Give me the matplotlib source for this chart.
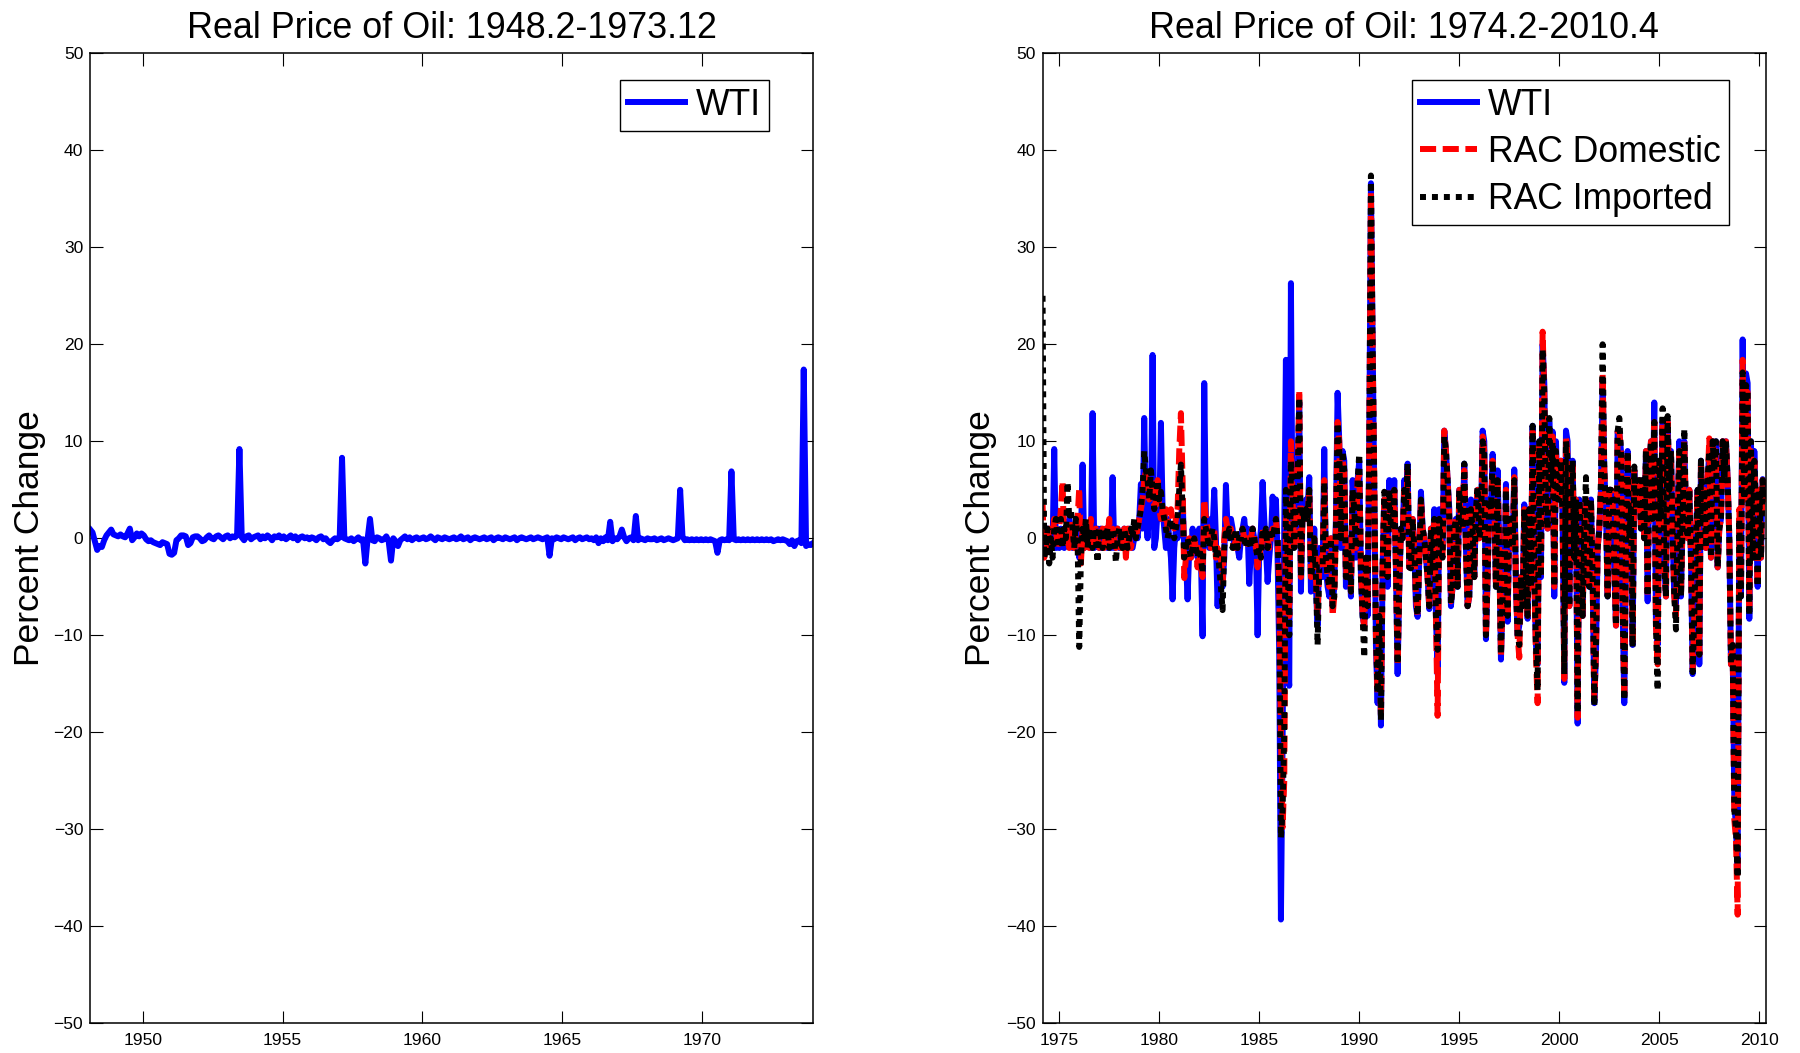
import matplotlib
matplotlib.use("Agg")
import matplotlib.pyplot as plt
import numpy as np

plt.rcParams['font.family'] = ['Liberation Sans', 'DejaVu Sans']

# ---------------- data ----------------
# Left panel: WTI real price, monthly percent change, 1948.2 - 1973.12
wti_early = [
    0.9, 0.6, -0.3, -1.2, -0.8, -0.9, -0.2, 0.3, 0.6, 0.9, 0.4,            # 1948 (Feb-Dec)
    0.3, 0.2, 0.4, 0.2, 0.1, 0.5, 1.0, -0.2, 0.1, 0.5, 0.2, 0.5,           # 1949
    0.3, -0.1, -0.3, -0.2, -0.4, -0.5, -0.6, -0.7, -0.4, -0.5, -0.6, -1.6, # 1950
    -1.7, -1.5, -0.2, 0.0, 0.3, 0.3, 0.2, -0.7, -0.5, 0.1, 0.2, 0.2,       # 1951
    0.0, -0.3, -0.2, 0.1, 0.3, 0.0, -0.1, 0.2, 0.3, 0.1, -0.1, 0.2,        # 1952
    0.3, 0.0, 0.2, 0.1, 0.3, 9.2, 0.1, -0.2, 0.2, 0.3, -0.1, 0.1,          # 1953
    0.2, 0.3, -0.1, 0.2, 0.0, 0.3, 0.1, -0.2, 0.2, 0.1, 0.3, 0.0,          # 1954
    0.2, -0.1, 0.1, 0.3, 0.0, 0.2, -0.2, 0.1, 0.2, 0.0, 0.1, -0.1,         # 1955
    0.1, 0.0, -0.2, 0.1, 0.2, -0.1, 0.0, -0.3, -0.5, -0.2, 0.0, -0.1,      # 1956
    0.1, 8.3, 0.0, -0.1, -0.2, 0.0, -0.3, -0.1, 0.1, -0.2, -0.1, -2.6,     # 1957
    0.0, 2.0, -0.2, -0.3, 0.1, 0.0, -0.2, -0.1, 0.2, -0.3, -2.3, 0.0,      # 1958
    -0.3, -0.8, -0.2, 0.0, 0.2, -0.1, 0.1, -0.2, 0.0, 0.1, -0.1, 0.0,      # 1959
    0.1, -0.1, 0.0, 0.2, 0.0, -0.2, 0.1, 0.0, -0.1, 0.1, 0.0, -0.1,        # 1960
    0.0, 0.1, -0.1, 0.0, 0.2, -0.1, 0.0, 0.1, -0.2, 0.0, 0.1, 0.0,         # 1961
    -0.1, 0.0, 0.1, -0.1, 0.0, 0.1, -0.2, 0.0, 0.1, 0.0, -0.1, 0.1,        # 1962
    0.0, -0.1, 0.0, 0.1, -0.2, 0.0, 0.1, 0.0, -0.1, 0.0, 0.1, -0.1,        # 1963
    0.0, 0.1, 0.0, -0.1, 0.0, 0.1, -1.8, 0.0, -0.1, 0.1, 0.0, -0.1,        # 1964
    0.1, 0.0, -0.1, 0.0, 0.1, -0.2, 0.0, 0.1, -0.1, 0.0, 0.1, -0.1,        # 1965
    0.0, -0.2, 0.1, -0.5, 0.0, -0.3, 0.1, -0.2, 1.7, -0.3, 0.0, -0.1,      # 1966
    0.2, 0.9, 0.1, -0.3, 0.0, 0.1, -0.2, 2.3, -0.2, 0.0, -0.1, -0.2,       # 1967
    0.0, -0.1, -0.1, 0.0, -0.2, -0.1, 0.0, -0.2, -0.1, 0.0, -0.1, -0.2,    # 1968
    -0.1, 0.0, 5.0, 0.2, -0.2, -0.1, -0.2, -0.1, -0.2, -0.1, -0.2, -0.1,   # 1969
    -0.2, -0.1, -0.2, -0.1, -0.2, -0.3, -1.5, -0.2, -0.1, -0.2, -0.1, -0.2,  # 1970
    6.9, -0.1, -0.2, -0.1, -0.2, -0.1, -0.2, -0.1, -0.2, -0.1, -0.2, -0.1,   # 1971
    -0.2, -0.1, -0.2, -0.1, -0.2, -0.1, -0.3, -0.2, -0.1, -0.2, -0.1, -0.2,  # 1972
    -0.3, -0.6, -0.2, -0.8, -0.3, -0.2, -0.5, 17.4, -0.8, -0.6, -0.7, -0.5,  # 1973
]

# Right panel: 1974.2 - 2010.4
wti = [
    1, -1, 0, 1, -1, 0, -1, 9.2, -1, 0, -1,                 # 1974
    1, 0, -1, 1, 0, 2, 1, -1, 1, -1, 0, -2,                 # 1975
    0, 7.6, -1, 0, 1, 0, -1, 12.9, -1, 0, 1, -1,            # 1976
    1, -1, 0, 1, -1, 0, -1, 6.3, -1, 0, 1, -1,              # 1977
    0, -1, 1, 0, -1, 1, 0, -1, 0, 1, 0, 2,                  # 1978
    5.6, 1, 12.4, 2, 0, 3, 2, 18.9, -1, 0, 3, 2,            # 1979
    11.9, 3, 1, -1, 2, 0, -2, -6.3, -1, 1, 0, 1,            # 1980
    2, 4, -1, -2, -6.3, -1, -2, 1, -1, 0, -2, 1,            # 1981
    -2, -10.1, 16, 2, 1, -1, 2, 1, 5, 0, -7, -2,            # 1982
    -3, -5, -2, 5.5, 1, 0, 2, 1, -1, 0, -1, -2,             # 1983
    0, 1, 2, 0, 1, -4.7, -1, 1, 0, -1, -10, -1,             # 1984
    1, 5.8, 2, -1, -4.5, -2, 0, 4.3, 1, 4, -2, -12,         # 1985
    -39.3, -21, 1, 18.4, -13, -15.2, 26.3, -1, 0, 2, 6, 14, # 1986
    -5.5, 3, 2, 4, 3, 6.3, -5.5, -4, 1, -5, -9, -1,         # 1987
    -2, -4, 9.2, -3, -5, -6, 0, -7, -5, 2, 15, 10,          # 1988
    -1, 9, 8, -5, 0, -2, -6, 6, 3, -2, 6, 8,                # 1989
    -4, -8, -9, -2, -8, 10, 36.6, 21, 6, -11, -17, -8,      # 1990
    -19.3, -3, 4, 2, -5, 6, 1, 1, 6, -3, -14, -5,           # 1991
    1, 0, 6, 3, 7.7, -3, -2, 2, -1, -7, -8.1, -2,           # 1992
    4.8, 1, 0, -2, -4, -7.3, 1, -3, 3, -8, -14, 3,          # 1993
    -1, -1, 11.1, 9, 6, 3, -7, -5, 1, 2, -5, 5,             # 1994
    2, 1, 7.7, -1, -7, -6, 4, 1, -4, 3, 5, 0,               # 1995
    1, 11.1, 10, -10.4, -4, 4, 3, 8.7, 4, -5, 7, -1,        # 1996
    -12.5, -6, -6, 5.6, -8.6, 2, 1, -1, 7.1, -5, -10, -9,   # 1997
    -4, -7, 3.5, -3, -8.3, 3, -5, 11.6, -4, -11, -13, 10,   # 1998
    -4, 20, 16, 3, 1, 12, 6, 11, -6, 10, 4, 4,              # 1999
    8, 2, -14.9, 11.1, 10, -7, 5, 8, -2, 4, -19.1, 4,       # 2000
    0, -8, 1, 4, -4, -5, 4, -4, -17, -12, -1, 1,            # 2001
    5, 16, 7, 3, -6, 5, 5, 4, -3, -9, 11, 11,               # 2002
    9, -7, -17, -1, 9, 0, 3, -11, 7, 3, 3, 6,               # 2003
    1, 6, 0, 9, -6.5, 7, 10, 2, 14, -9, -11, 8,             # 2004
    2, 12, -3, -6, 12, 5, 9, 0, -6, -7, 2, 10,              # 2005
    -6, 2, 10, 2, 0, 5, -2, -14, -8, 0, 5, -13,             # 2006
    8, 2, 5, -1, 6, 9, -2, 10, 7, 10, -3, 1,                # 2007
    2, 10, 6, 10, 6, 0, -13, -11, -27, -30, -34, 2,         # 2008
    -6, 20.5, 4, 17, 16, -8.3, 10, -2, 9, 3, -5, 5,         # 2009
    -2, 6.1, 4, 4.8,                                        # 2010
]

rac_domestic = [
    3.5, -2, 0, -1, 1, -1, 0, 2, 1, -1, 1,                  # 1974
    3, 5.9, -1, 1, 0, -1, 2, 0, -1, 1, 2, 5.2,              # 1975
    -2.6, 1, -1, 0, 1, -1, 2, 0, -1, 1, 0, -1,              # 1976
    0, 1, -1, 1, 0, 2, -1, 1, 0, -1, 1, 0,                  # 1977
    -1, 0, 1, -2, 1, 0, -1, 0, 1, 0, 1, 2,                  # 1978
    3, 4, 6, 7, 5, 4, 6, 5, 3, 4, 6, 3,                     # 1979
    2, 3, 2, 3, 1, 2, 3, 2, 1, 2, 3, 9,                     # 1980
    12.9, 6, -4.1, -2, -1, 0, -2, -1, 0, -1, -3, -1,        # 1981
    -3, -4, 4, 2, 1, 0, -1, 0, 1, -2, -1, -2,               # 1982
    -2, -4.6, 0, 2, 1, 0, 1, 0, -1, 0, -1, 0,               # 1983
    0, 1, 0, -1, 0, -1, 0, 1, 0, -1, -3, -1,                # 1984
    -2, 1, 0, 1, 0, -1, 0, 1, 1, 2, 0, -5,                  # 1985
    -20, -29.8, -25, 2, -3, -8, 10, 4, -1, 3, 5, 15.3,      # 1986
    -4, 3, 2, 3, 2, 5, -4, -3, 0, -4, -8, -3,               # 1987
    -2, -3, 6, -2, -4, -5, 0, -8, -6, 1, 12, 10,            # 1988
    0, 8, 7, -4, -1, -2, -5.5, 5, 3, -1, 6, 6.6,            # 1989
    -3, -8, -9.1, -2, -7, 9, 35.8, 20, 6, -10, -16, -8,     # 1990
    -18.5, -3, 4, 2, -4, 5, 1, 1, 5, -3, -13, -5,           # 1991
    1, 0, 5, 3, 7, -3, -2, 2, -1, -6, -8, -2,               # 1992
    4, 1, 0, -2, -4, -7, 1, -3, 2, -8, -18.3, 2,            # 1993
    -1, -2, 11.1, 9, 6, 2, -6.5, -5, 1, 2, -5, 5,           # 1994
    2, 1, 7, -1, -7, -6, 3, 1, -4, 3, 5, 0,                 # 1995
    1, 10.5, 9, -10, -4, 4, 3, 8, 4, -5, 6.5, -2,           # 1996
    -12.3, -6, -6, 5, -8, 2, 1, -1, 6.3, -5, -10, -12.3,    # 1997
    -4, -7, 3, -3, -8, 3, -5, 11, -4, -12, -17, 10,         # 1998
    -4, 21.3, 15, 3, 1, 11.5, 6, 10.5, -5, 9, 4, 4,         # 1999
    8, 2, -14.5, 10.5, 8.4, -7, 5, 8, -2, 4, -18.5, 4,      # 2000
    0, -8, 1, 4, -4, -5, 4, -4, -16.5, -12, -1, 1,          # 2001
    5, 17, 7, 3, -6, 5, 5, 4, -3, -9, 11, 11,               # 2002
    9, -7, -16.5, -1, 9, 0, 3, -11, 7, 3, 3, 6,             # 2003
    1, 6, 0, 9, -6, 7, 10, 2, 12, -9, -13, 8,               # 2004
    2, 12, -3, -6, 12, 5, 9, 0, -6, -8, 2, 9,               # 2005
    -6, 2, 10, 2, 0, 5, -2, -13.5, -8, 0, 5, -12,           # 2006
    8, 2, 5, -1, 6, 10.3, -2, 10, 7, 9, -3, 1,              # 2007
    2, 10, 6, 10, 6, 0, -13, -11, -29, -31, -38.8, 3,       # 2008
    -5, 18.4, 4, 15.8, 15, -7, 9, -2, 8, 3, -5, 5,          # 2009
    -2, 6, 4, 5,                                            # 2010
]

rac_imported = [
    25, -2, -1, 1, -2.6, 0, -2, 1, 2, 0, -1,                # 1974
    2, -1, 1, 0, 5.8, 2, 3, 1, -1, 2, 0, -11.2,             # 1975
    -2, 1, 0, 2, -1, 1, 0, -1, 1, 0, -2.5, 1,               # 1976
    0, -1, 1, 0, 1, -1, 0, 1, 0, -2.5, 0, 1,                # 1977
    0, -1, 1, 0, -1, 0, 1, 0, 2, 0, 1, 2,                   # 1978
    3, 5, 9, 7, 6, 4, 7, 5, 3, 4, 6, 4,                     # 1979
    4.8, 3, 2, 1, 0, 1, 2, 1, 0, 1, 2, 5,                   # 1980
    7.6, 3, -2, -1, 0, -1, -2, -1, 0, -1, -2, -1,           # 1981
    -2, -3.6, 2, 1, 0, -1, 0, 1, 0, -2, -1, -3,             # 1982
    -5, -7.4, -1, 1, 0, 1, 0, -1, 0, 1, -1, 0,              # 1983
    0, 1, 0, -1, 0, 0, -1, 1, 0, -1, -2, -1,                # 1984
    -2, 1, 0, 1, -1, 0, 1, 0, 1, 2, 0, -5,                  # 1985
    -30.9, -28, -20, 5, -2, -10, 8, 5, -1, 4, 6, 14.5,      # 1986
    -4, 3, 2, 3, 2, 5, -4, -3, 0, -4, -11, -3,              # 1987
    -3, -3, 5.8, -2, -4, -5, 0, -7, -6, 1, 11.9, 9,         # 1988
    0, 9, 7, -4, -1, -2, -5.5, 5, 3, -1, 6, 8.7,            # 1989
    -4, -8, -12.3, -2, -7, 9, 37.4, 20, 6, -10, -16, -8,    # 1990
    -18.8, -3, 4.8, 2, -4, 5, 1, 1, 5, -3, -13, -5,         # 1991
    1, 0, 5, 3, 7.7, -3, -3.1, 2, -1, -6, -8, -2,           # 1992
    4, 1, 0, -2, -4, -7, 1, -3, 2, -8, -11.5, 2,            # 1993
    -1, -2, 10.5, 9, 6, 2, -6.8, -5, 1, 2, -5, 5,           # 1994
    2, 1, 7.7, -1, -7, -6, 3, 1, -4, 3, 5.3, 0,             # 1995
    1, 10, 9, -10, -4, 4, 3, 8, 4, -5, 6, -2,               # 1996
    -12, -6, -6, 5, -8, 2, 1, -1, 6, -5, -10, -11,          # 1997
    -4, -7, 3, -3, -8, 3, -5, 11.6, -4, -11, -15.7, 10,     # 1998
    -4, 19.5, 15, 3, 1, 12.4, 6, 10, -5, 9, 4, 4,           # 1999
    8, 2, -14, 10, 8, -7, 5, 8, -2, 4, -18, 4,              # 2000
    0, -8, 1, 6.3, -4, -5, 4, -4, -17.3, -11, -1, 1,        # 2001
    6, 20, 7, 3, -6, 5, 5, 4, -3, -9, 11, 12.4,             # 2002
    9, -7, -16.7, -1, 9, 0, 3, -11.2, 7.4, 3, 3, 6,         # 2003
    1, 6, 0, 9, -6, 7, 10, 2, 12, -9, -15.7, 8,             # 2004
    2, 13.4, -3, -6, 12.6, 5, 9, 0, -6, -9.4, 2, 9,         # 2005
    -6, 2, 11.3, 2, 0, 5, -2, -13.8, -8, 0, 5, -12,         # 2006
    8, 2, 5, -1, 6, 9, -2, 10, 7, 10, -3, 1,                # 2007
    2, 10, 6, 10, 6, 0, -13, -11, -28, -30, -35, 2,         # 2008
    -6, 17.1, 4, 15.8, 15, -8, 10, -2, 8, 3, -5, 5,         # 2009
    -2, 6, 4, 5,                                            # 2010
]

y_ticks = [-50, -40, -30, -20, -10, 0, 10, 20, 30, 40, 50]
x_ticks_left = [1950, 1955, 1960, 1965, 1970]
x_ticks_right = [1975, 1980, 1985, 1990, 1995, 2000, 2005, 2010]
titles = ["Real Price of Oil: 1948.2-1973.12", "Real Price of Oil: 1974.2-2010.4"]

# ---------------- figure ----------------
fig = plt.figure(figsize=(18, 10.53), dpi=100)
ax1 = fig.add_axes([0.0501, 0.0282, 0.4016, 0.9212])
ax2 = fig.add_axes([0.5792, 0.0282, 0.4019, 0.9212])

x_left = 1948 + (np.arange(len(wti_early)) + 1.5) / 12.0
x_wti = 1974 + (np.arange(len(wti)) + 2) / 12.0
x_dom = 1974 + (np.arange(len(rac_domestic)) + 2) / 12.0
x_imp = 1974 + (np.arange(len(rac_imported)) + 2) / 12.0

LW = 4.3
BLUE = '#0000ff'
RED = '#ff0000'

ax1.plot(x_left, wti_early, color=BLUE, lw=LW, label='WTI')
ax1.set_xlim(x_left[0], x_left[-1])
ax1.set_xticks(x_ticks_left)

ax2.plot(x_wti, wti, color=BLUE, lw=LW, label='WTI')
ax2.plot(x_dom, rac_domestic, color=RED, lw=LW, linestyle=(0, (2.7, 1.1)),
         dash_capstyle='butt', label='RAC Domestic')
ax2.plot(x_imp, rac_imported, color='black', lw=LW, linestyle=(0, (1, 1)),
         dash_capstyle='butt', label='RAC Imported')
ax2.set_xlim(x_wti[0], x_wti[-1])
ax2.set_xticks(x_ticks_right)

for ax, title, lx, leg_anchor in [(ax1, titles[0], -0.061, (0.939, 0.9725)),
                                  (ax2, titles[1], -0.0636, (0.9484, 0.9725))]:
    ax.set_ylim(-50, 50)
    ax.set_yticks(y_ticks)
    ax.tick_params(direction='in', length=9, width=0.8, labelsize=12.6,
                   top=True, right=True)
    ax.tick_params(axis='x', pad=7)
    ax.tick_params(axis='y', pad=5)
    for sp in ax.spines.values():
        sp.set_linewidth(1.1)
    ax.set_title(title, fontsize=25.8, pad=11)
    ax.set_ylabel('Percent Change', fontsize=25.5)
    ax.yaxis.set_label_coords(lx, 0.5)
    leg = ax.legend(loc='upper right', bbox_to_anchor=leg_anchor, borderaxespad=0,
                    fontsize=25.6, fancybox=False, edgecolor='black', framealpha=1,
                    handlelength=1.62, handletextpad=0.3, borderpad=0.22,
                    labelspacing=0.34)
    leg.get_frame().set_linewidth(1.0)

fig.savefig('out.png', dpi=100)
